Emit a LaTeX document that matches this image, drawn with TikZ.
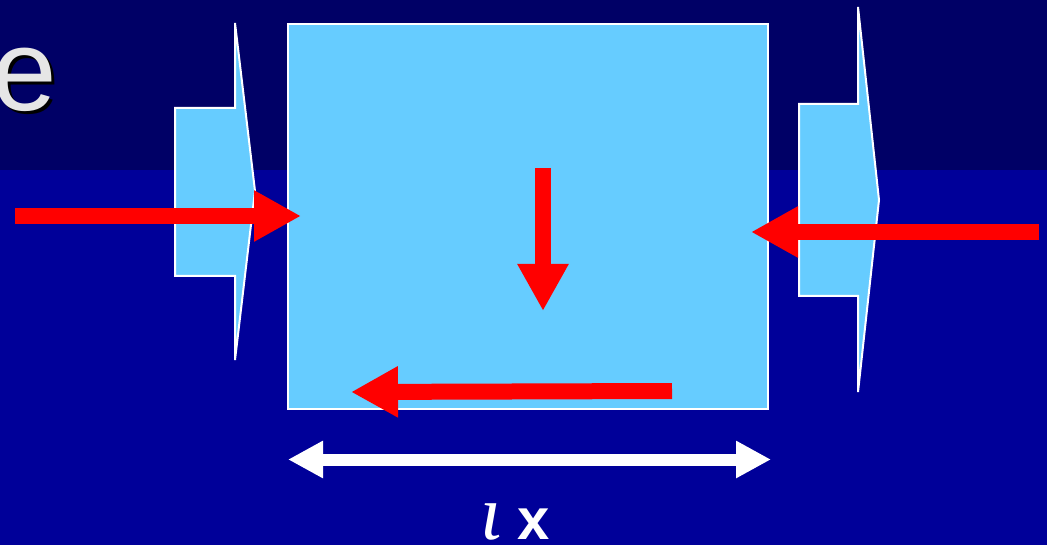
\documentclass[tikz,border=0pt]{standalone}
\usepackage{fontspec}
\usetikzlibrary{arrows.meta}
\newfontfamily\arialf{Liberation Sans}
\newfontfamily\arialbf{Liberation Sans Bold}
\newfontfamily\timesif{Liberation Serif Italic}
\definecolor{topband}{HTML}{000066}
\definecolor{lowband}{HTML}{000099}
\definecolor{lightblue}{HTML}{66CCFF}
\definecolor{redarr}{HTML}{FF0000}
\definecolor{egray}{HTML}{E6E6E6}
\tikzset{
  panel/.style={fill=lightblue, draw=white, line width=2pt, line join=miter},
  redarrow/.style={draw=redarr, line width=16pt, -{Triangle[length=47pt,width=48pt]}},
  dimarrow/.style={draw=white, line width=12pt, {Triangle[length=35pt,width=35pt]}-{Triangle[length=35pt,width=35pt]}},
}
\begin{document}
\begin{tikzpicture}[x=1pt,y=-1pt]
\useasboundingbox (0,0) rectangle (1047,545);
\clip (0,0) rectangle (1047,545);
% background
\fill[lowband] (0,0) rectangle (1047,545);
\fill[topband] (0,0) rectangle (1047,170);
% title letter with shadow
\node[anchor=base west, inner sep=0pt, text=black] (eshadow) at (-5,114) {\fontsize{116}{116}\arialf e};
\node[anchor=base west, inner sep=0pt, text=egray] (eletter) at (-8,111) {\fontsize{116}{116}\arialf e};
% left flux shape
\draw[panel] (175,108) -- (235,108) -- (235,23) -- (255,191) -- (235,360) -- (235,276) -- (175,276) -- cycle;
% right flux shape
\draw[panel] (799,104) -- (858,104) -- (858,7) -- (879,200) -- (858,392) -- (858,296) -- (799,296) -- cycle;
% control volume
\node[panel, anchor=north west, minimum width=480pt, minimum height=385pt, inner sep=0pt] (box) at (287,23) {};
% red arrows
\coordinate (a1s) at (15,216);
\coordinate (a1e) at (301,216);
\coordinate (a2s) at (1039,232);
\coordinate (a2e) at (751,232);
\coordinate (a3s) at (543,168);
\coordinate (a3e) at (543,311);
\coordinate (a4s) at (672,391);
\coordinate (a4e) at (351,392);
\draw[redarrow] (a1s) -- (a1e);
\draw[redarrow] (a2s) -- (a2e);
\draw[redarrow] (a3s) -- (a3e);
\draw[redarrow] (a4s) -- (a4e);
% dimension arrow
\coordinate (dl) at (288,459.5);
\coordinate (dr) at (771,459.5);
\draw[dimarrow] (dl) -- (dr);
% label
\node[anchor=base west, inner sep=0pt, text=white] (iota) at (480,539) {\fontsize{78}{78}\timesif ι};
\node[anchor=base west, inner sep=0pt, text=white] (xlab) at (517,539) {\fontsize{58}{58}\arialbf x};
\end{tikzpicture}
\end{document}
